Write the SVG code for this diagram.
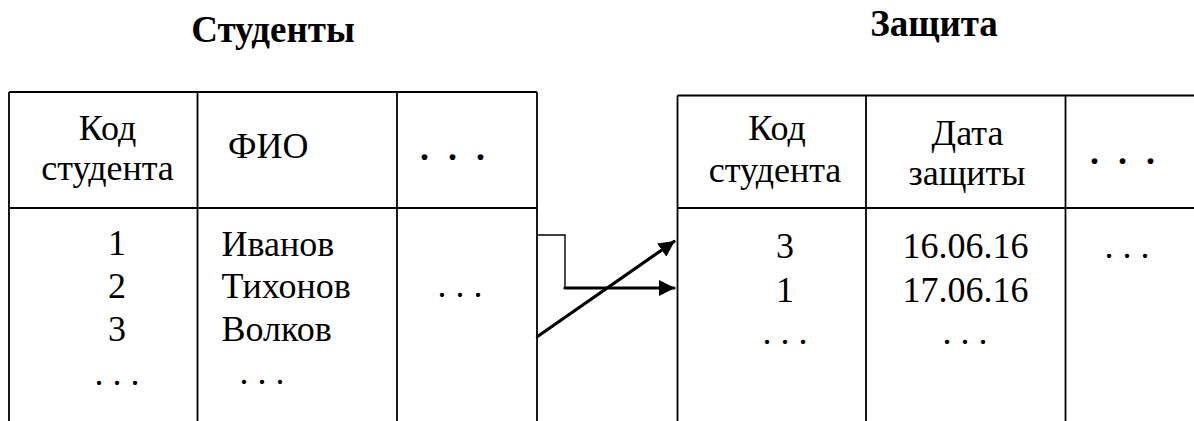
<svg xmlns="http://www.w3.org/2000/svg" width="1194" height="421" viewBox="0 0 1194 421">
  <style>
    .grid { stroke: #000; stroke-width: 1.8; fill: none; }
    .title { font-family: "Liberation Serif", "Times New Roman", serif; font-weight: bold; font-size: 37px; fill: #000; text-anchor: middle; }
    .hdr { font-family: "Liberation Serif", "Times New Roman", serif; font-size: 36px; fill: #000; text-anchor: middle; }
    .cell { font-family: "Liberation Serif", "Times New Roman", serif; font-size: 36px; fill: #000; text-anchor: middle; }
    .name { font-family: "Liberation Serif", "Times New Roman", serif; font-size: 36px; fill: #000; }
    .hdots { font-family: "Liberation Serif", "Times New Roman", serif; font-weight: bold; font-size: 36px; fill: #000; text-anchor: middle; letter-spacing: 5px; }
    .thin { stroke: #000; stroke-width: 1.4; fill: none; }
    .thick { stroke: #000; stroke-width: 3.2; fill: none; stroke-linecap: round; }
  </style>
  <defs>
    <marker id="arrow" viewBox="0 0 16 16" refX="15" refY="8" markerWidth="16" markerHeight="16" markerUnits="userSpaceOnUse" orient="auto">
      <path d="M0,0 L16,8 L0,16 Z" fill="#000"/>
    </marker>
  </defs>

  <rect width="1194" height="421" fill="#fff"/>

  <!-- Students table -->
  <g id="students">
    <text class="title" x="273" y="42">Студенты</text>
    <path class="grid" d="M9,92 H537 M9,92 V421 M197.5,92 V421 M397,92 V421 M537,92 V421 M9,208 H537"/>
    <text class="hdr" x="107.5" y="140">Код</text>
    <text class="hdr" x="107.5" y="180">студента</text>
    <text class="hdr" x="228" y="158" style="text-anchor:start">ФИО</text>
    <text class="hdots" x="455" y="160">. . .</text>
    <text class="cell" x="117" y="255">1</text>
    <text class="cell" x="117" y="298">2</text>
    <text class="cell" x="117" y="341">3</text>
    <text class="cell" x="117" y="385">. . .</text>
    <text class="name" x="221.5" y="256">Иванов</text>
    <text class="name" x="221.5" y="298">Тихонов</text>
    <text class="name" x="221.5" y="341">Волков</text>
    <text class="cell" x="262" y="384">. . .</text>
    <text class="cell" x="460" y="297">. . .</text>
  </g>

  <!-- Defense table -->
  <g id="defense">
    <text class="title" x="934" y="36">Защита</text>
    <path class="grid" d="M677.5,95.5 H1194 M677.5,95.5 V421 M866,95.5 V421 M1065.5,95.5 V421 M677.5,208 H1194"/>
    <text class="hdr" x="777" y="140">Код</text>
    <text class="hdr" x="775" y="182">студента</text>
    <text class="hdr" x="967.5" y="145">Дата</text>
    <text class="hdr" x="967" y="185">защиты</text>
    <text class="hdots" x="1125" y="164">. . .</text>
    <text class="cell" x="785" y="258">3</text>
    <text class="cell" x="785" y="301.5">1</text>
    <text class="cell" x="785" y="344">. . .</text>
    <text class="cell" x="965.5" y="258">16.06.16</text>
    <text class="cell" x="965.5" y="301.5">17.06.16</text>
    <text class="cell" x="965" y="344">. . .</text>
    <text class="cell" x="1127" y="258">. . .</text>
  </g>

  <!-- Links between the tables -->
  <g id="connectors">
    <path class="thin" d="M537,235 H565 V288"/>
    <path class="thick" d="M565,288 H674" marker-end="url(#arrow)"/>
    <path class="thick" d="M537.5,336.5 L674,241.5" marker-end="url(#arrow)"/>
  </g>
</svg>
